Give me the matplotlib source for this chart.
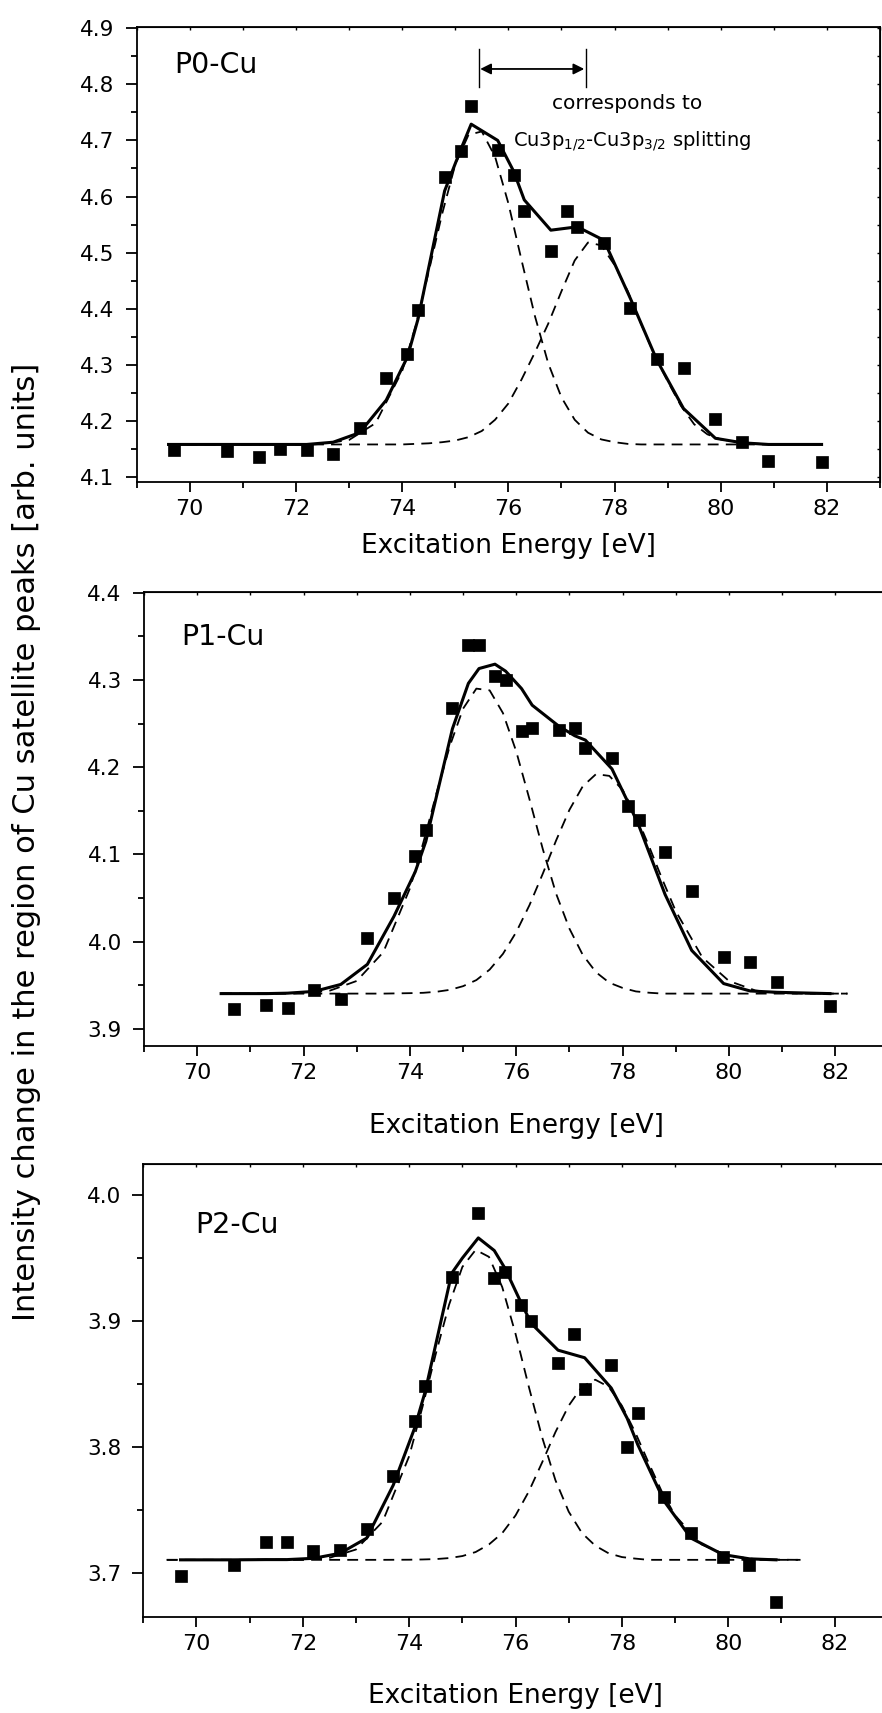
import matplotlib
matplotlib.use("Agg")
from matplotlib import pyplot as plt
from matplotlib.ticker import MultipleLocator, FormatStrFormatter

# ---- P0-Cu ----
p0_x = [69.7, 70.7, 71.3, 71.7, 72.2, 72.7, 73.2, 73.7, 74.1, 74.3, 74.8, 75.1, 75.3, 75.8,
        76.1, 76.3, 76.8, 77.1, 77.3, 77.8, 78.3, 78.8, 79.3, 79.9, 80.4, 80.9, 81.9]
p0_y = [4.148, 4.146, 4.136, 4.149, 4.148, 4.141, 4.188, 4.277, 4.320, 4.398, 4.634, 4.682, 4.761, 4.683,
        4.638, 4.575, 4.502, 4.575, 4.545, 4.517, 4.401, 4.310, 4.295, 4.203, 4.163, 4.129, 4.127]
p0_fit_x = [69.6, 70.7, 71.3, 71.7, 72.2, 72.7, 73.2, 73.7, 74.1, 74.3, 74.8, 75.1, 75.3,
            75.8, 76.1, 76.3, 76.8, 77.3, 77.8, 78.3, 78.8, 79.3, 79.9, 80.4, 80.9, 81.9]
p0_fit_y = [4.158, 4.158, 4.158, 4.158, 4.158, 4.162, 4.179, 4.237, 4.314, 4.382, 4.610, 4.683, 4.729,
            4.700, 4.645, 4.594, 4.540, 4.546, 4.522, 4.418, 4.308, 4.222, 4.169, 4.161, 4.158, 4.158]
p0_comp_x = [69.6, 71.0, 72.0, 72.5, 73.0, 73.5, 74.0, 74.25, 74.5, 74.75, 75.0, 75.25, 75.5, 75.75,
             76.0, 76.25, 76.5, 76.75, 77.0, 77.25, 77.5, 77.75, 78.0, 78.25, 78.5, 78.75, 79.0,
             79.25, 79.5, 79.75, 80.0, 80.5, 81.0, 81.9]
p0_comp1 = [4.158, 4.158, 4.158, 4.159, 4.166, 4.196, 4.289, 4.368, 4.466, 4.568, 4.657, 4.710, 4.716, 4.671,
            4.588, 4.486, 4.387, 4.303, 4.242, 4.202, 4.179, 4.167, 4.162, 4.159, 4.158, 4.158, 4.158,
            4.158, 4.158, 4.158, 4.158, 4.158, 4.158, 4.158]
p0_comp2 = [4.158, 4.158, 4.158, 4.158, 4.158, 4.158, 4.158, 4.159, 4.160, 4.162, 4.165, 4.171, 4.182, 4.202,
            4.231, 4.274, 4.322, 4.373, 4.431, 4.486, 4.518, 4.513, 4.478, 4.431, 4.373, 4.318, 4.271,
            4.227, 4.194, 4.176, 4.167, 4.160, 4.158, 4.158]

# ---- P1-Cu ----
p1_x = [70.7, 71.3, 71.7, 72.2, 72.7, 73.2, 73.7, 74.1, 74.3, 74.8, 75.1, 75.3, 75.6, 75.8,
        76.1, 76.3, 76.8, 77.1, 77.3, 77.8, 78.1, 78.3, 78.8, 79.3, 79.9, 80.4, 80.9, 81.9]
p1_y = [3.923, 3.928, 3.924, 3.945, 3.934, 4.004, 4.050, 4.098, 4.128, 4.268, 4.340, 4.340, 4.305, 4.300,
        4.241, 4.245, 4.242, 4.245, 4.222, 4.211, 4.155, 4.140, 4.103, 4.058, 3.983, 3.977, 3.954, 3.926]
p1_fit_x = [70.45, 70.7, 71.3, 71.7, 72.2, 72.7, 73.2, 73.7, 74.1, 74.3, 74.8, 75.1, 75.3, 75.6, 75.8,
            76.1, 76.3, 76.8, 77.1, 77.3, 77.8, 78.1, 78.3, 78.8, 79.3, 79.9, 80.4, 80.9, 81.9]
p1_fit_y = [3.9405, 3.9405, 3.9405, 3.941, 3.943, 3.951, 3.974, 4.029, 4.080, 4.115, 4.244, 4.296, 4.313,
            4.318, 4.310, 4.290, 4.271, 4.247, 4.236, 4.231, 4.198, 4.160, 4.134, 4.054, 3.990, 3.952,
            3.9435, 3.942, 3.9405]
p1_comp_x = [70.45, 71.0, 72.0, 72.5, 73.0, 73.5, 74.0, 74.25, 74.5, 74.75, 75.0, 75.25, 75.5, 75.75,
             76.0, 76.25, 76.5, 76.75, 77.0, 77.25, 77.5, 77.75, 78.0, 78.25, 78.5, 78.75, 79.0,
             79.5, 80.0, 80.5, 81.0, 81.5, 82.23]
p1_comp1 = [3.9405, 3.9405, 3.941, 3.944, 3.955, 3.988, 4.061, 4.113, 4.170, 4.224, 4.267, 4.290, 4.288,
            4.262, 4.218, 4.163, 4.106, 4.055, 4.015, 3.985, 3.965, 3.953, 3.947, 3.943, 3.9415, 3.9405,
            3.9405, 3.9405, 3.9405, 3.9405, 3.9405, 3.9405, 3.9405]
p1_comp2 = [3.9405, 3.9405, 3.9405, 3.9405, 3.9405, 3.9405, 3.941, 3.9414, 3.9426, 3.9448, 3.949, 3.956,
            3.968, 3.986, 4.011, 4.042, 4.078, 4.116, 4.151, 4.178, 4.192, 4.190, 4.174, 4.145, 4.109,
            4.071, 4.035, 3.982, 3.955, 3.944, 3.941, 3.9405, 3.9405]

# ---- P2-Cu ----
p2_x = [69.7, 70.7, 71.3, 71.7, 72.2, 72.7, 73.2, 73.7, 74.1, 74.3, 74.8, 75.3, 75.6, 75.8,
        76.1, 76.3, 76.8, 77.1, 77.3, 77.8, 78.1, 78.3, 78.8, 79.3, 79.9, 80.4, 80.9]
p2_y = [3.698, 3.707, 3.725, 3.725, 3.718, 3.719, 3.735, 3.777, 3.821, 3.849, 3.935, 3.986, 3.934, 3.939,
        3.913, 3.900, 3.867, 3.890, 3.846, 3.865, 3.800, 3.827, 3.761, 3.732, 3.713, 3.707, 3.677]
p2_fit_x = [69.7, 70.7, 71.3, 71.7, 72.2, 72.7, 73.2, 73.7, 74.1, 74.3, 74.8, 75.0, 75.3, 75.6,
            75.8, 76.1, 76.3, 76.8, 77.3, 77.8, 78.1, 78.3, 78.8, 79.3, 79.9, 80.4, 80.9]
p2_fit_y = [3.7108, 3.7108, 3.711, 3.711, 3.712, 3.716, 3.728, 3.770, 3.815, 3.844, 3.938, 3.950, 3.966,
            3.956, 3.942, 3.915, 3.898, 3.877, 3.871, 3.847, 3.823, 3.802, 3.757, 3.728, 3.715, 3.7116, 3.7108]
p2_comp_x = [69.44, 70.5, 71.0, 72.0, 72.5, 73.0, 73.5, 74.0, 74.25, 74.5, 74.75, 75.0, 75.25, 75.5,
             75.75, 76.0, 76.25, 76.5, 76.75, 77.0, 77.25, 77.5, 77.75, 78.0, 78.25, 78.5, 78.75,
             79.0, 79.5, 80.0, 80.5, 81.0, 81.36]
p2_comp1 = [3.7108, 3.7108, 3.7108, 3.711, 3.7124, 3.719, 3.741, 3.793, 3.832, 3.874, 3.913, 3.943, 3.9565,
            3.951, 3.927, 3.890, 3.848, 3.808, 3.774, 3.749, 3.732, 3.722, 3.716, 3.713, 3.7118, 3.7108,
            3.7108, 3.7108, 3.7108, 3.7108, 3.7108, 3.7108, 3.7108]
p2_comp2 = [3.7108, 3.7108, 3.7108, 3.7108, 3.7108, 3.7108, 3.7108, 3.7109, 3.7111, 3.7114, 3.7122, 3.7138,
            3.717, 3.723, 3.732, 3.746, 3.765, 3.788, 3.812, 3.833, 3.848, 3.8536, 3.848, 3.833, 3.812,
            3.788, 3.765, 3.746, 3.723, 3.714, 3.7114, 3.7109, 3.7108]

x_ticks = [70, 72, 74, 76, 78, 80, 82]
x_label = "Excitation Energy [eV]"
y_label = "Intensity change in the region of Cu satellite peaks [arb. units]"

# splitting marker in the top panel
split_lo, split_hi = 75.44, 77.46

dash = (0, (6, 4))

fig = plt.figure(figsize=(8.82, 17.13), dpi=100)

panels = [
    # rect, ylim, name, name pos, xlabel y, data
    ([0.155, 0.7188, 0.8427, 0.2653], (4.0916, 4.9018), "P0-Cu", (0.0506, 0.899), -0.157,
     p0_x, p0_y, p0_fit_x, p0_fit_y, p0_comp_x, p0_comp1, p0_comp2),
    ([0.1633, 0.3894, 0.844, 0.2649], (3.8805, 4.4005), "P1-Cu", (0.0506, 0.884), -0.192,
     p1_x, p1_y, p1_fit_x, p1_fit_y, p1_comp_x, p1_comp1, p1_comp2),
    ([0.1625, 0.0559, 0.844, 0.2646], (3.6653, 4.0246), "P2-Cu", (0.0695, 0.847), -0.189,
     p2_x, p2_y, p2_fit_x, p2_fit_y, p2_comp_x, p2_comp1, p2_comp2),
]

axes = []
for rect, ylim, name, npos, xl_y, px, py, fx, fy, cx, c1, c2 in panels:
    ax = fig.add_axes(rect)
    ax.plot(cx, c1, color="black", lw=1.3, linestyle=dash)
    ax.plot(cx, c2, color="black", lw=1.3, linestyle=dash)
    ax.plot(fx, fy, color="black", lw=2.2)
    ax.plot(px, py, linestyle="none", marker="s", ms=8.4, color="black", mew=0.5)

    ax.set_xlim(69.0, 83.0)
    ax.set_ylim(*ylim)
    ax.set_xticks(x_ticks)
    ax.xaxis.set_minor_locator(MultipleLocator(1))
    ax.yaxis.set_major_locator(MultipleLocator(0.1))
    ax.yaxis.set_minor_locator(MultipleLocator(0.05))
    ax.yaxis.set_major_formatter(FormatStrFormatter("%.1f"))

    ax.tick_params(axis="x", which="major", direction="out", length=7.2, width=1.3, pad=5, labelsize=16)
    ax.tick_params(axis="x", which="minor", direction="out", length=4, width=1.3)
    ax.tick_params(axis="y", which="major", direction="out", length=8, width=1.3, pad=8, labelsize=15.5)
    ax.tick_params(axis="y", which="minor", direction="out", length=4.3, width=1.3)
    for s in ax.spines.values():
        s.set_linewidth(1.3)

    # small inward ticks on top and right
    top = ax.secondary_xaxis("top")
    top.set_xticks(x_ticks)
    top.xaxis.set_minor_locator(MultipleLocator(1))
    top.tick_params(which="both", direction="in", length=2.5, width=1.0, labeltop=False)
    right = ax.secondary_yaxis("right")
    right.yaxis.set_major_locator(MultipleLocator(0.1))
    right.yaxis.set_minor_locator(MultipleLocator(0.05))
    right.tick_params(which="both", direction="in", length=2.5, width=1.0, labelright=False)

    ax.set_xlabel(x_label, fontsize=19)
    ax.xaxis.set_label_coords(0.5, xl_y)
    ax.xaxis.label.set_va("baseline")

    ax.text(npos[0], npos[1], name, transform=ax.transAxes, fontsize=20.5, va="baseline")
    axes.append(ax)

ax1 = axes[0]
ax1.plot([split_lo, split_lo], [4.796, 4.863], color="black", lw=1.0)
ax1.plot([split_hi, split_hi], [4.796, 4.863], color="black", lw=1.0)
ax1.annotate("", xy=(split_hi - 0.03, 4.8274), xytext=(split_lo + 0.03, 4.8274),
             arrowprops=dict(arrowstyle="<|-|>", color="black", lw=1.3, mutation_scale=16,
                             shrinkA=0, shrinkB=0))
ax1.text(78.24, 4.7556, "corresponds to", ha="center", va="baseline", fontsize=14.5)
ax1.text(78.34, 4.689, r"Cu3p$_{1/2}$-Cu3p$_{3/2}$ splitting", ha="center", va="baseline",
         fontsize=14)

fig.text(0.0306, 0.5085, y_label, rotation=90, ha="center", va="center", fontsize=22)

fig.savefig("out.png", dpi=100)
